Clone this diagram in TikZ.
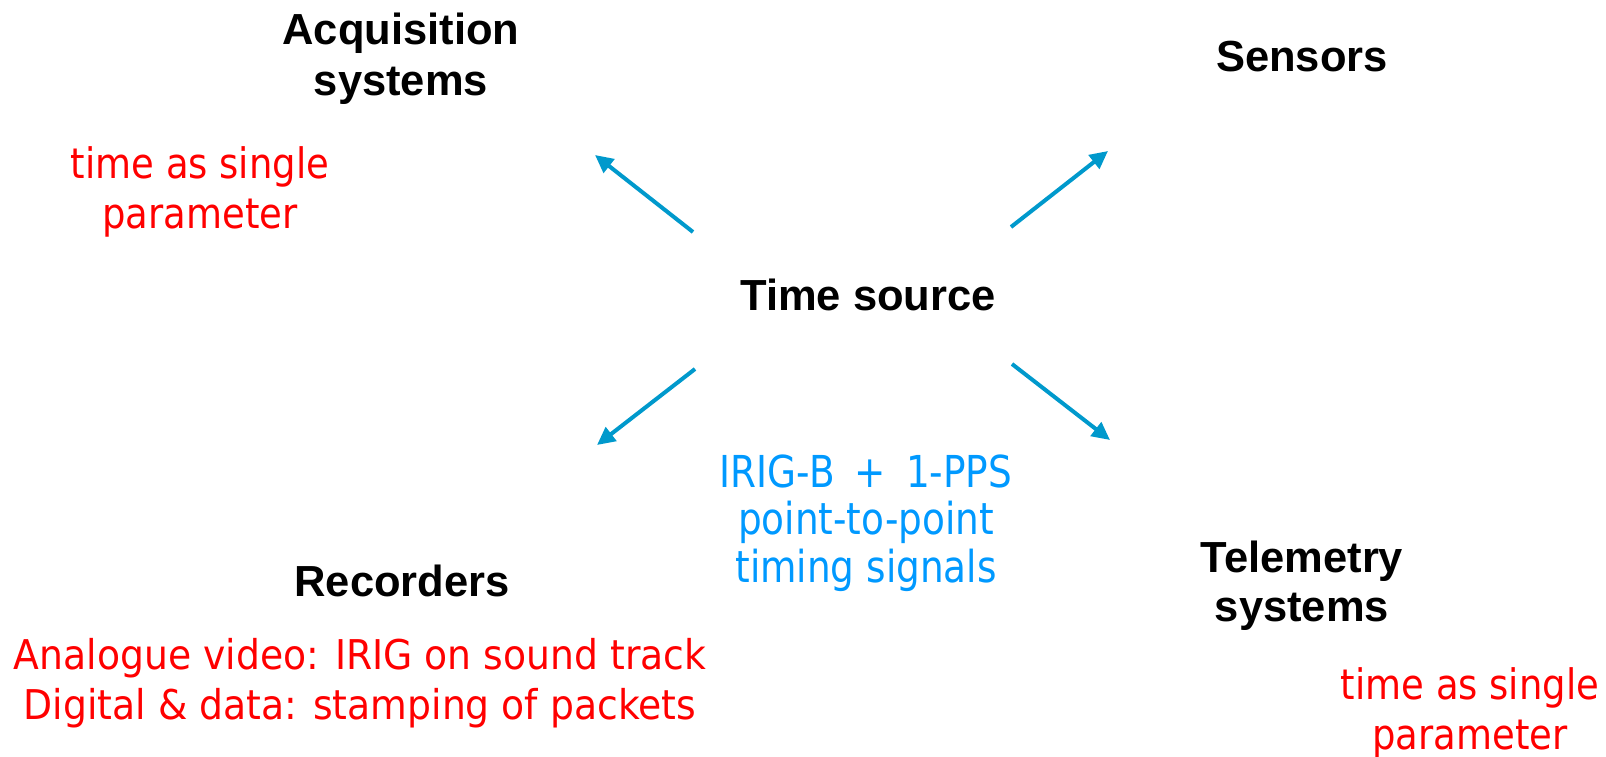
\documentclass[tikz,border=0pt]{standalone}
\usepackage{fontspec}
\setmainfont{Liberation Sans}
\newfontfamily\labelfont[FakeStretch=0.85]{DejaVu Sans}
\newfontfamily\notefont[FakeStretch=0.88]{DejaVu Sans}
\newfontfamily\recnotefont[FakeStretch=0.92]{DejaVu Sans}
\usetikzlibrary{arrows.meta}
\definecolor{arrowblue}{RGB}{0,153,204}
\definecolor{signalblue}{RGB}{0,153,255}
\definecolor{notered}{RGB}{255,0,0}
\tikzset{
  txt/.style={inner sep=0pt, anchor=base},
  title/.style={txt, font=\fontsize{43.5}{50}\selectfont\bfseries, text=black},
  signal/.style={txt, font=\labelfont\fontsize{44}{48}\selectfont, text=signalblue},
  note/.style={txt, font=\notefont\fontsize{42}{50}\selectfont, text=notered},
  recnote/.style={txt, font=\recnotefont\fontsize{41}{50}\selectfont, text=notered},
  feed/.style={draw=arrowblue, line width=4pt, -{Triangle[length=18pt,width=17pt]}}
}
\begin{document}
\begin{tikzpicture}[x=1pt,y=-1pt]
\useasboundingbox (0,0) rectangle (1606,757);

% central time source
\node[title] (src) at (868,310) {Time source};

% destinations
\node[title] (acq1) at (401,45) {Acquisition};
\node[title] (acq2) at (401,96) {systems};
\node[title] (sen) at (1302,72) {Sensors};
\node[title] (rec) at (402,596) {Recorders};
\node[title] (tel1) at (1302,572) {Telemetry};
\node[title] (tel2) at (1302,621) {systems};

% how each destination uses time
\node[note] (acqn1) at (200,178) {time as single};
\node[note] (acqn2) at (200,228) {parameter};
\node[note] (teln1) at (1470,699) {time as single};
\node[note] (teln2) at (1470,749) {parameter};
\node[recnote] (recn1) at (360,669) {Analogue video: IRIG on sound track};
\node[recnote] (recn2) at (360,719) {Digital \& data: stamping of packets};

% distributed signals
\node[signal] (sig1) at (866,487) {IRIG-B\hspace{20pt}+\hspace{20pt}1-PPS};
\node[signal] (sig2) at (866,534) {point-to-point};
\node[signal] (sig3) at (866,582) {timing signals};

% arrow end points around the source
\coordinate (nwA) at (693,232);  \coordinate (nwB) at (595,155);
\coordinate (neA) at (1011,227); \coordinate (neB) at (1108,151);
\coordinate (swA) at (695,369);  \coordinate (swB) at (597,445);
\coordinate (seA) at (1012,364); \coordinate (seB) at (1110,440);

\draw[feed] (nwA) -- (nwB);
\draw[feed] (neA) -- (neB);
\draw[feed] (swA) -- (swB);
\draw[feed] (seA) -- (seB);
\end{tikzpicture}
\end{document}
